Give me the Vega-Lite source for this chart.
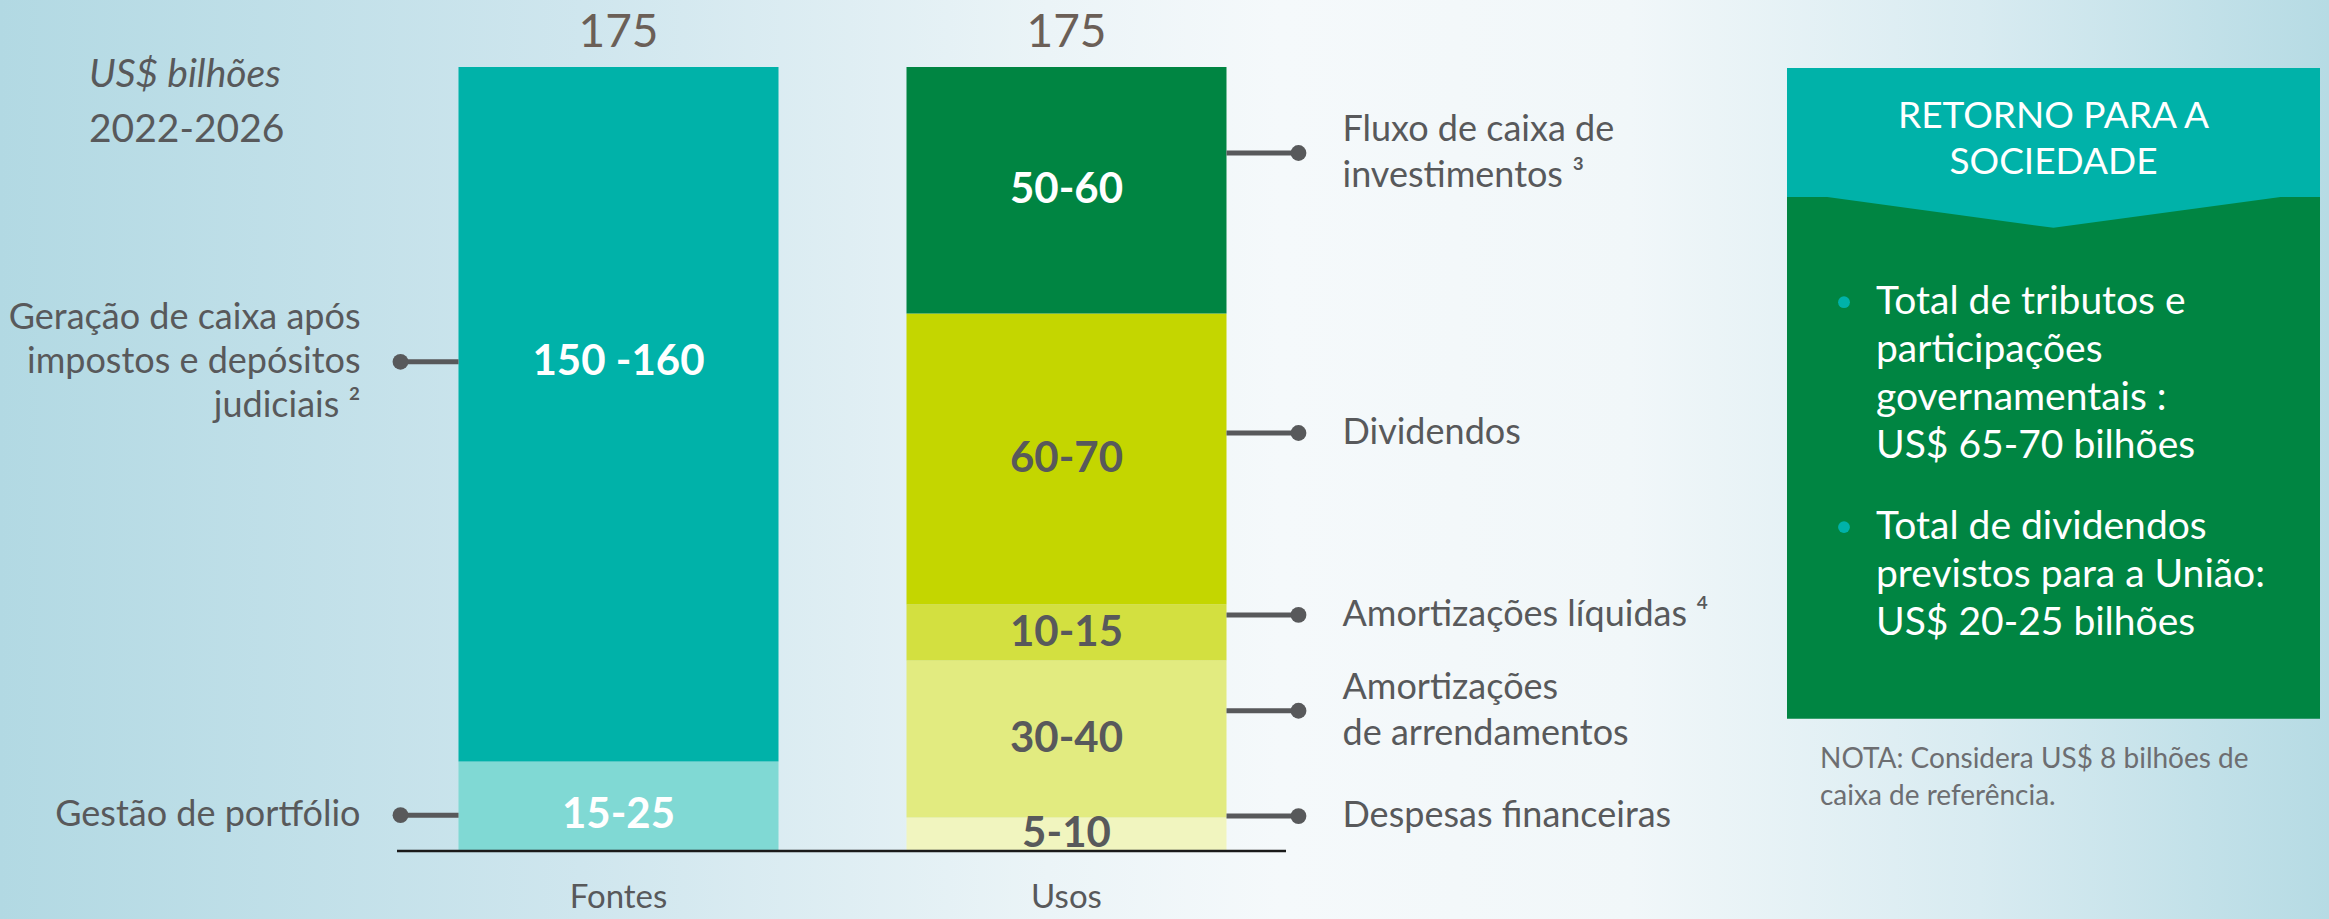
{
  "$schema": "https://vega.github.io/schema/vega-lite/v6.json",
  "autosize": "none",
  "width": 2329,
  "height": 919,
  "padding": 0,
  "background": "#E6F2F6",
  "config": {
    "view": {"stroke": null},
    "font": "Lato, Liberation Sans, sans-serif",
    "text": {"font": "Lato, Liberation Sans, sans-serif"}
  },
  "title": {
    "text": "US$ bilhões",
    "subtitle": "2022-2026",
    "anchor": "start",
    "frame": "group",
    "orient": "top",
    "offset": -150,
    "dx": 89,
    "font": "Lato, Liberation Sans, sans-serif",
    "fontSize": 39,
    "fontStyle": "italic",
    "fontWeight": "normal",
    "color": "#58595B",
    "subtitleFont": "Lato, Liberation Sans, sans-serif",
    "subtitleFontSize": 39,
    "subtitleFontStyle": "normal",
    "subtitleColor": "#58595B",
    "subtitlePadding": 16
  },
  "datasets": {
    "segmentos": [
      {"coluna": "Fontes", "item": "Gestão de portfólio", "rotulo": "Gestão de portfólio", "faixa": "15-25", "valor": 20, "ordem": 1, "ancora": 8.0},
      {"coluna": "Fontes", "item": "Geração de caixa após impostos e depósitos judiciais", "rotulo": "Geração de caixa após\nimpostos e depósitos\njudiciais ²", "faixa": "150 -160", "valor": 155, "ordem": 2, "ancora": 109.2},
      {"coluna": "Usos", "item": "Despesas financeiras", "rotulo": "Despesas financeiras", "faixa": "5-10", "valor": 7.5, "ordem": 1, "ancora": 7.8},
      {"coluna": "Usos", "item": "Amortizações de arrendamentos", "rotulo": "Amortizações\nde arrendamentos", "faixa": "30-40", "valor": 35, "ordem": 2, "ancora": 31.3},
      {"coluna": "Usos", "item": "Amortizações líquidas", "rotulo": "Amortizações líquidas ⁴", "faixa": "10-15", "valor": 12.5, "ordem": 3, "ancora": 52.7},
      {"coluna": "Usos", "item": "Dividendos", "rotulo": "Dividendos", "faixa": "60-70", "valor": 65, "ordem": 4, "ancora": 93.3},
      {"coluna": "Usos", "item": "Fluxo de caixa de investimentos", "rotulo": "Fluxo de caixa de\ninvestimentos ³", "faixa": "50-60", "valor": 55, "ordem": 5, "ancora": 155.8}
    ],
    "retorno": [
      {"parte": "cabecalho", "texto": "RETORNO PARA A\nSOCIEDADE"},
      {"parte": "item1", "texto": "Total de tributos e\nparticipações\ngovernamentais :\nUS$ 65-70 bilhões"},
      {"parte": "item2", "texto": "Total de dividendos\nprevistos para a União:\nUS$ 20-25 bilhões"},
      {"parte": "nota", "texto": "NOTA: Considera US$ 8 bilhões de\ncaixa de referência."}
    ]
  },
  "layer": [
    {
      "data": {"values": [{}]},
      "mark": {
        "type": "rect",
        "color": {
          "gradient": "linear",
          "x1": 0, "y1": 0, "x2": 1, "y2": 0,
          "stops": [
            {"offset": 0, "color": "#B2D9E3"},
            {"offset": 0.25, "color": "#CFE6EE"},
            {"offset": 0.45, "color": "#EBF4F7"},
            {"offset": 0.55, "color": "#F5F9FB"},
            {"offset": 0.7, "color": "#F1F7F9"},
            {"offset": 0.85, "color": "#D8EBF1"},
            {"offset": 1, "color": "#B6DBE4"}
          ]
        }
      },
      "encoding": {
        "x": {"value": 0},
        "x2": {"value": "width"},
        "y": {"value": 0},
        "y2": {"value": "height"}
      }
    },
    {
      "data": {"name": "segmentos"},
      "encoding": {
        "x": {
          "field": "coluna",
          "type": "nominal",
          "sort": null,
          "scale": {"domain": ["Fontes", "Usos"], "range": [458.5, 1226.5], "paddingInner": 0.2857, "paddingOuter": 0},
          "axis": null
        }
      },
      "layer": [
        {
          "mark": {"type": "bar"},
          "encoding": {
            "y": {
              "field": "valor",
              "type": "quantitative",
              "stack": "zero",
              "scale": {"domain": [0, 175], "range": [851, 67], "nice": false, "zero": true},
              "axis": null
            },
            "color": {
              "field": "item",
              "type": "nominal",
              "scale": {
                "domain": ["Gestão de portfólio", "Geração de caixa após impostos e depósitos judiciais", "Despesas financeiras", "Amortizações de arrendamentos", "Amortizações líquidas", "Dividendos", "Fluxo de caixa de investimentos"],
                "range": ["#80D9D4", "#00B2A9", "#F1F5BF", "#E2EB80", "#D3E040", "#C4D600", "#008542"]
              },
              "legend": null
            },
            "order": {"field": "ordem", "type": "quantitative"}
          }
        },
        {
          "data": {"values": [{}]},
          "mark": {"type": "rule", "color": "#1A1A1A", "strokeWidth": 2.5, "xOffset": -221.5, "x2Offset": 219.5},
          "encoding": {
            "x": {"datum": "Fontes", "type": "nominal"},
            "x2": {"datum": "Usos"},
            "y": {"datum": 0, "type": "quantitative"}
          }
        },
        {
          "transform": [{"aggregate": [{"op": "count", "as": "n"}], "groupby": ["coluna"]}],
          "mark": {"type": "text", "align": "center", "baseline": "middle", "fontSize": 33, "color": "#58595B", "dy": 47},
          "encoding": {
            "y": {"datum": 0, "type": "quantitative"},
            "text": {"field": "coluna", "type": "nominal"}
          }
        },
        {
          "transform": [{"filter": "datum.coluna === 'Fontes'"}],
          "mark": {"type": "rule", "color": "#58595B", "strokeWidth": 5, "xOffset": -218, "x2Offset": -160},
          "encoding": {
            "x2": {"field": "coluna"},
            "y": {"field": "ancora", "type": "quantitative"}
          }
        },
        {
          "transform": [{"filter": "datum.coluna === 'Fontes'"}],
          "mark": {"type": "point", "filled": true, "shape": "circle", "size": 250, "color": "#58595B", "opacity": 1, "xOffset": -218},
          "encoding": {
            "y": {"field": "ancora", "type": "quantitative"}
          }
        },
        {
          "transform": [{"filter": "datum.coluna === 'Fontes'"}],
          "mark": {"type": "text", "align": "right", "baseline": "middle", "lineBreak": "\n", "lineHeight": 44, "fontSize": 36, "color": "#58595B", "xOffset": -258, "dy": {"expr": "-(length(split(datum.rotulo, '\\n')) - 1) * 22"}},
          "encoding": {
            "y": {"field": "ancora", "type": "quantitative"},
            "text": {"field": "rotulo", "type": "nominal"}
          }
        },
        {
          "transform": [{"filter": "datum.coluna === 'Usos'"}],
          "mark": {"type": "rule", "color": "#58595B", "strokeWidth": 5, "xOffset": 160, "x2Offset": 232},
          "encoding": {
            "x2": {"field": "coluna"},
            "y": {"field": "ancora", "type": "quantitative"}
          }
        },
        {
          "transform": [{"filter": "datum.coluna === 'Usos'"}],
          "mark": {"type": "point", "filled": true, "shape": "circle", "size": 250, "color": "#58595B", "opacity": 1, "xOffset": 232},
          "encoding": {
            "y": {"field": "ancora", "type": "quantitative"}
          }
        },
        {
          "transform": [{"filter": "datum.coluna === 'Usos'"}],
          "mark": {"type": "text", "align": "left", "baseline": "middle", "lineBreak": "\n", "lineHeight": 46, "fontSize": 36, "color": "#58595B", "xOffset": 276, "dy": {"expr": "-(length(split(datum.rotulo, '\\n')) - 1) * 23"}},
          "encoding": {
            "y": {"field": "ancora", "type": "quantitative"},
            "text": {"field": "rotulo", "type": "nominal"}
          }
        },
        {
          "transform": [{"filter": "datum.coluna === 'Fontes'"}],
          "mark": {"type": "text", "align": "center", "baseline": "middle", "fontSize": 42, "fontWeight": "bold", "color": "#FFFFFF"},
          "encoding": {
            "y": {"field": "ancora", "type": "quantitative"},
            "text": {"field": "faixa", "type": "nominal"}
          }
        },
        {
          "transform": [{"filter": "datum.coluna === 'Usos'"}],
          "mark": {"type": "text", "align": "center", "baseline": "middle", "fontSize": 42, "fontWeight": "bold"},
          "encoding": {
            "y": {"field": "valor", "type": "quantitative", "stack": "zero", "bandPosition": 0.5},
            "order": {"field": "ordem", "type": "quantitative"},
            "text": {"field": "faixa", "type": "nominal"},
            "color": {
              "condition": {"test": "datum.item === 'Fluxo de caixa de investimentos'", "value": "#FFFFFF"},
              "value": "#58595B"
            }
          }
        },
        {
          "mark": {"type": "text", "align": "center", "baseline": "alphabetic", "fontSize": 46, "color": "#6B5F57", "dy": -20},
          "encoding": {
            "y": {"aggregate": "sum", "field": "valor", "type": "quantitative"},
            "text": {"aggregate": "sum", "field": "valor", "type": "quantitative"}
          }
        }
      ]
    },
    {
      "data": {"name": "retorno"},
      "encoding": {
        "x": {
          "datum": "Retorno",
          "type": "nominal",
          "scale": {"domain": ["Retorno"], "range": [1787, 2320], "paddingInner": 0, "paddingOuter": 0},
          "axis": null
        }
      },
      "layer": [
        {
          "transform": [{"filter": "datum.parte === 'cabecalho'"}],
          "mark": {"type": "bar", "color": "#008542"},
          "encoding": {
            "y": {"datum": 174.8, "type": "quantitative"},
            "y2": {"datum": 29.5}
          }
        },
        {
          "transform": [{"filter": "datum.parte === 'cabecalho'"}],
          "mark": {"type": "bar", "color": "#00B2A9"},
          "encoding": {
            "y": {"datum": 174.8, "type": "quantitative"},
            "y2": {"datum": 146}
          }
        },
        {
          "transform": [{"filter": "datum.parte === 'cabecalho'"}],
          "mark": {"type": "point", "filled": true, "opacity": 1, "strokeWidth": 0, "color": "#00B2A9", "shape": "M-1,-0.02L1,-0.02L0,0.116Z", "size": 284089},
          "encoding": {
            "y": {"datum": 146, "type": "quantitative"}
          }
        },
        {
          "transform": [{"filter": "datum.parte === 'cabecalho'"}],
          "mark": {"type": "text", "align": "center", "baseline": "middle", "lineBreak": "\n", "lineHeight": 46, "fontSize": 37, "color": "#FFFFFF"},
          "encoding": {
            "y": {"datum": 163.8, "type": "quantitative"},
            "text": {"field": "texto", "type": "nominal"}
          }
        },
        {
          "transform": [{"filter": "datum.parte === 'item1'"}],
          "mark": {"type": "text", "align": "left", "baseline": "middle", "lineBreak": "\n", "lineHeight": 48, "fontSize": 39, "color": "#FFFFFF", "xOffset": -177.5},
          "encoding": {
            "y": {"datum": 122.5, "type": "quantitative"},
            "text": {"field": "texto", "type": "nominal"}
          }
        },
        {
          "transform": [{"filter": "datum.parte === 'item1'"}],
          "mark": {"type": "point", "filled": true, "shape": "circle", "opacity": 1, "size": 140, "color": "#00B2A9", "xOffset": -209.5},
          "encoding": {
            "y": {"datum": 122.5, "type": "quantitative"}
          }
        },
        {
          "transform": [{"filter": "datum.parte === 'item2'"}],
          "mark": {"type": "text", "align": "left", "baseline": "middle", "lineBreak": "\n", "lineHeight": 48, "fontSize": 39, "color": "#FFFFFF", "xOffset": -177.5},
          "encoding": {
            "y": {"datum": 72.3, "type": "quantitative"},
            "text": {"field": "texto", "type": "nominal"}
          }
        },
        {
          "transform": [{"filter": "datum.parte === 'item2'"}],
          "mark": {"type": "point", "filled": true, "shape": "circle", "opacity": 1, "size": 140, "color": "#00B2A9", "xOffset": -209.5},
          "encoding": {
            "y": {"datum": 72.3, "type": "quantitative"}
          }
        },
        {
          "transform": [{"filter": "datum.parte === 'nota'"}],
          "mark": {"type": "text", "align": "left", "baseline": "middle", "lineBreak": "\n", "lineHeight": 37, "fontSize": 28, "color": "#6D6E71", "xOffset": -233.5},
          "encoding": {
            "y": {"datum": 20.3, "type": "quantitative"},
            "text": {"field": "texto", "type": "nominal"}
          }
        }
      ]
    }
  ],
  "resolve": {"scale": {"x": "independent"}}
}
